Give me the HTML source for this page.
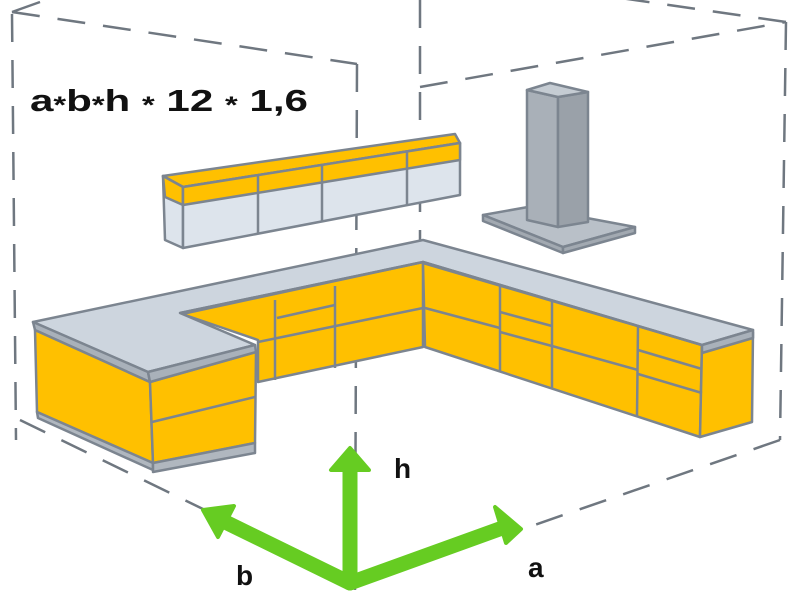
<!DOCTYPE html>
<html><head><meta charset="utf-8"><style>html,body{margin:0;padding:0;background:#fff}svg{display:block}</style></head>
<body>
<svg width="800" height="600" viewBox="0 0 800 600" xmlns="http://www.w3.org/2000/svg" font-family="Liberation Sans, Arial, sans-serif">
<g stroke="#6f7780" stroke-width="2.5" fill="none" stroke-dasharray="28,18">
  <line x1="12" y1="12" x2="357" y2="64"/>
  <line x1="12" y1="12" x2="40" y2="2" stroke-dasharray="none"/>
  <line x1="12" y1="14" x2="16" y2="440"/>
  <line x1="357" y1="64" x2="355" y2="590"/>
  <line x1="420" y1="0" x2="420" y2="300"/>
  <line x1="420" y1="87" x2="786" y2="22"/>
  <line x1="786" y1="22" x2="600" y2="-5"/>
  <line x1="786" y1="22" x2="780" y2="440"/>
  <line x1="780" y1="440" x2="520" y2="530"/>
  <line x1="20" y1="420" x2="205" y2="510"/>
</g>
<text x="30" y="111" font-size="31" font-weight="bold" fill="#111" textLength="278" lengthAdjust="spacingAndGlyphs">a<tspan font-size="24" dy="2">*</tspan><tspan dy="-2">b</tspan><tspan font-size="24" dy="2">*</tspan><tspan dy="-2">h </tspan><tspan font-size="24" dy="2">*</tspan><tspan dy="-2"> 12 </tspan><tspan font-size="24" dy="2">*</tspan><tspan dy="-2"> 1,6</tspan></text>

<g stroke="#7c8590" stroke-width="2.5" stroke-linejoin="round">
  <polygon points="163,176 455,134 460,143 183,187" fill="#ffc000"/>
  <polygon points="163,176 183,187 183,248 165,240" fill="#dde4ec"/>
  <polygon points="163,176 183,187 183,205 165,197" fill="#ffc000"/>
  <polygon points="183,187 460,143 460,195 183,248" fill="#dde4ec"/>
  <polygon points="183,187 460,143 460,160 183,205" fill="#ffc000"/>
  <line x1="258" y1="175" x2="258" y2="234"/>
  <line x1="322" y1="165" x2="322" y2="222"/>
  <line x1="407" y1="151" x2="407" y2="205"/>
  <polygon points="483,215 528,207 635,227 563,247" fill="#b9c0c8"/>
  <polygon points="483,215 563,247 563,253 483,221" fill="#a2a9b1"/>
  <polygon points="563,247 635,227 635,233 563,253" fill="#a2a9b1"/>
  <polygon points="527,90 558,97 558,227 527,220" fill="#a9b0b8"/>
  <polygon points="558,97 588,92 588,222 558,227" fill="#9aa1a9"/>
  <polygon points="527,90 550,83 588,92 558,97" fill="#c5ccd3"/>
  <polygon points="182,314 423,262 423,347 258,382 258,340" fill="#ffc000"/>
  <line x1="275" y1="300" x2="275" y2="380"/>
  <line x1="335" y1="286" x2="335" y2="368"/>
  <line x1="258" y1="342" x2="423" y2="308"/>
  <line x1="277" y1="318" x2="335" y2="305"/>
  <polygon points="423,263 702,345 700,437 425,347" fill="#ffc000"/>
  <polygon points="702,345 753,332 752,422 700,437" fill="#ffc000"/>
  <line x1="500" y1="286" x2="500" y2="372"/>
  <line x1="552" y1="301" x2="552" y2="389"/>
  <line x1="638" y1="326" x2="637" y2="416"/>
  <line x1="425" y1="308" x2="500" y2="328"/>
  <line x1="500" y1="312" x2="552" y2="326"/>
  <line x1="500" y1="332" x2="552" y2="346"/>
  <line x1="552" y1="346" x2="638" y2="370"/>
  <line x1="638" y1="350" x2="702" y2="369"/>
  <line x1="638" y1="374" x2="702" y2="393"/>
  <polygon points="35,330 150,382 153,463 37,412" fill="#ffc000"/>
  <polygon points="37,412 153,463 153,470 38,418" fill="#b0b7bf"/>
  <polygon points="150,382 256,352 255,443 153,463" fill="#ffc000"/>
  <polygon points="153,463 255,443 255,453 153,472" fill="#b0b7bf"/>
  <line x1="152" y1="422" x2="255" y2="397"/>
  <polygon points="33,322 423,240 753,330 702,345 423,262 180,313 255,345 148,372" fill="#cdd5de"/>
  <polygon points="33,322 148,372 150,382 35,330" fill="#a9b1ba"/>
  <polygon points="148,372 255,345 256,352 150,382" fill="#a9b1ba"/>
  <polygon points="702,345 753,330 753,338 702,353" fill="#a9b1ba"/>
  <polyline points="180,313 423,262 702,345" fill="none"/>
</g>

<g stroke="#66cc22" stroke-width="15" fill="none" stroke-linecap="round" stroke-linejoin="round">
  <polyline points="215,517 350,583 505,527"/>
  <line x1="350" y1="583" x2="350" y2="465"/>
</g>
<g fill="#66cc22" stroke="#66cc22" stroke-width="4" stroke-linejoin="round">
  <polygon points="350,448 331,470 369,470"/>
  <polygon points="203,510 218,537 234,506"/>
  <polygon points="521,529 495,507 506,543"/>
</g>
<g font-size="28" font-weight="bold" fill="#111">
  <text x="394" y="478">h</text>
  <text x="236" y="585">b</text>
  <text x="528" y="577">a</text>
</g>
</svg>
</body></html>
